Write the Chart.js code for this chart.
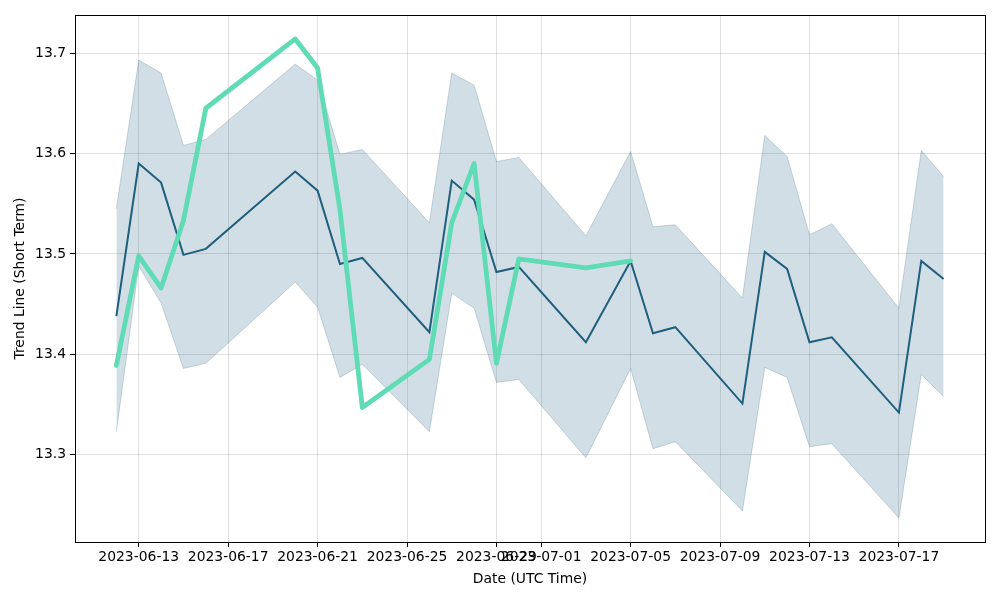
<!DOCTYPE html>
<html lang="en">
<head>
    <meta charset="UTF-8">
    <title>Trend Line (Short Term)</title>
    <script src="https://cdn.jsdelivr.net/npm/chart.js"></script>
    <style>
        html, body { margin: 0; padding: 0; background: #fff; }
        #wrap { width: 1000px; height: 600px; }
    </style>
</head>
<body>
<div id="wrap"><canvas id="trendChart" width="1000" height="600"></canvas></div>

<script>
    // dates of the observations (UTC)
    const dates = ['2023-06-12', '2023-06-13', '2023-06-14', '2023-06-15', '2023-06-16',
        '2023-06-20', '2023-06-21', '2023-06-22', '2023-06-23', '2023-06-26',
        '2023-06-27', '2023-06-28', '2023-06-29', '2023-06-30', '2023-07-03',
        '2023-07-05', '2023-07-06', '2023-07-07', '2023-07-10', '2023-07-11',
        '2023-07-12', '2023-07-13', '2023-07-14', '2023-07-17', '2023-07-18', '2023-07-19'];

    const trendMean = [13.438, 13.590, 13.571, 13.499, 13.505, 13.582, 13.563, 13.490, 13.496, 13.422,
        13.573, 13.554, 13.482, 13.487, 13.412, 13.493, 13.421, 13.427, 13.351, 13.502,
        13.485, 13.412, 13.417, 13.342, 13.493, 13.475];

    const trendUpper = [13.545, 13.693, 13.680, 13.608, 13.614, 13.689, 13.673, 13.599, 13.604, 13.531,
        13.680, 13.668, 13.592, 13.596, 13.518, 13.602, 13.527, 13.529, 13.456, 13.618,
        13.597, 13.519, 13.530, 13.446, 13.603, 13.577];

    const trendLower = [13.323, 13.488, 13.451, 13.386, 13.391, 13.472, 13.447, 13.377, 13.390, 13.323,
        13.461, 13.446, 13.372, 13.375, 13.297, 13.386, 13.306, 13.313, 13.244, 13.387,
        13.377, 13.308, 13.311, 13.237, 13.380, 13.358];

    // actual values only exist up to 2023-07-05
    const trendActual = [13.389, 13.498, 13.466, 13.533, 13.645, 13.714, 13.685, 13.544, 13.347, 13.395,
        13.531, 13.590, 13.391, 13.495, 13.486, 13.493];

    const xTickLabels = ['2023-06-13', '2023-06-17', '2023-06-21', '2023-06-25', '2023-06-29',
        '2023-07-01', '2023-07-05', '2023-07-09', '2023-07-13', '2023-07-17'];
    const yTickValues = [13.3, 13.4, 13.5, 13.6, 13.7];

    const DAY = 86400000;
    const origin = Date.parse(dates[0]);
    const dayOf = s => (Date.parse(s) - origin) / DAY;

    const pts = vals => vals.map((v, i) => ({ x: dayOf(dates[i]), y: v }));
    const xTicks = xTickLabels.map(dayOf);

    // matplotlib-like 5% margins
    const xSpan = dayOf(dates[dates.length - 1]);
    const allY = trendUpper.concat(trendLower, trendActual, trendMean);
    const yMin = Math.min(...allY), yMax = Math.max(...allY);
    const yPad = (yMax - yMin) * 0.05;

    const frame = {
        id: 'frame',
        afterDraw(chart) {
            const a = chart.chartArea, ctx = chart.ctx;
            ctx.save();
            ctx.strokeStyle = '#000';
            ctx.lineWidth = 1;
            ctx.strokeRect(Math.round(a.left) + 0.5, Math.round(a.top) + 0.5,
                Math.round(a.right - a.left), Math.round(a.bottom - a.top));
            ctx.restore();
        }
    };

    const font = { family: 'DejaVu Sans', size: 13.9 };

    new Chart(document.getElementById('trendChart').getContext('2d'), {
        type: 'line',
        data: {
            datasets: [
                {
                    label: 'Actual',
                    data: pts(trendActual),
                    borderColor: '#5fdcb5',
                    borderWidth: 4.8,
                    pointRadius: 0,
                    fill: false,
                    borderJoinStyle: 'round',
                    borderCapStyle: 'round'
                },
                {
                    label: 'Trend',
                    data: pts(trendMean),
                    borderColor: '#1f5f7e',
                    borderWidth: 2,
                    pointRadius: 0,
                    fill: false
                },
                {
                    label: 'Upper',
                    data: pts(trendUpper),
                    borderColor: 'rgba(30,90,125,0.22)',
                    borderWidth: 1,
                    pointRadius: 0,
                    backgroundColor: 'rgba(30,90,125,0.2)',
                    fill: '+1'
                },
                {
                    label: 'Lower',
                    data: pts(trendLower),
                    borderColor: 'rgba(30,90,125,0.22)',
                    borderWidth: 1,
                    pointRadius: 0,
                    fill: false
                }
            ]
        },
        options: {
            responsive: false,
            animation: false,
            layout: { padding: { top: 15, right: 15, left: 0, bottom: 0 } },
            plugins: {
                legend: { display: false },
                tooltip: { enabled: false }
            },
            scales: {
                x: {
                    type: 'linear',
                    min: -xSpan * 0.05,
                    max: xSpan * 1.05,
                    afterBuildTicks: s => { s.ticks = xTicks.map(v => ({ value: v })); },
                    afterFit: s => { s.height = 58; },
                    ticks: {
                        autoSkip: false,
                        maxRotation: 0,
                        color: '#000',
                        font: font,
                        padding: 2,
                        callback: (v, i) => xTickLabels[i]
                    },
                    grid: { color: 'rgba(0,0,0,0.12)', tickColor: '#000', tickLength: 5 },
                    border: { color: '#000' },
                    title: { display: true, text: 'Date (UTC Time)', color: '#000', font: font, padding: { top: 2, bottom: 12 } }
                },
                y: {
                    min: yMin - yPad,
                    max: yMax + yPad,
                    afterBuildTicks: s => { s.ticks = yTickValues.map(v => ({ value: v })); },
                    afterFit: s => { s.width = 75; },
                    ticks: {
                        color: '#000',
                        font: font,
                        padding: 4,
                        callback: v => v.toFixed(1)
                    },
                    grid: { color: 'rgba(0,0,0,0.12)', tickColor: '#000', tickLength: 5 },
                    border: { color: '#000' },
                    title: { display: true, text: 'Trend Line (Short Term)', color: '#000', font: font, padding: { top: 12, bottom: 8 } }
                }
            }
        },
        plugins: [frame]
    });
</script>
</body>
</html>
